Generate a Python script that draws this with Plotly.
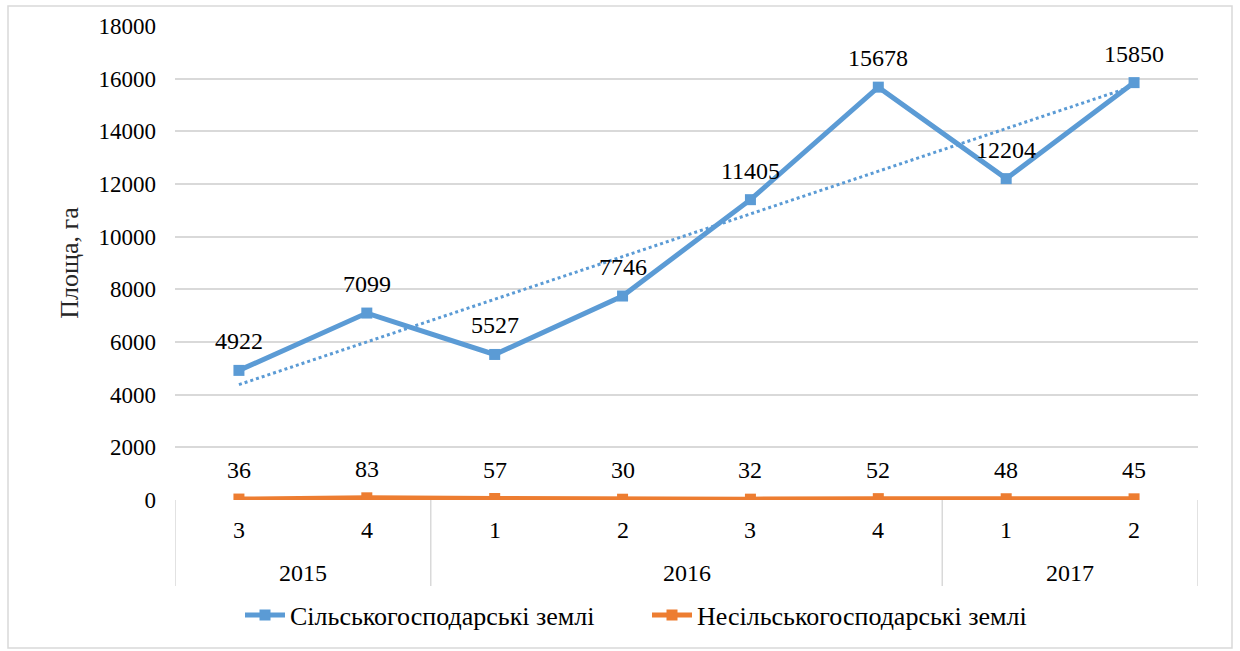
import numpy as np
import plotly.graph_objects as go

# Quarterly land area, ha
quarters = ["3", "4", "1", "2", "3", "4", "1", "2"]
years = ["2015", "2016", "2017"]
year_spans = [(0, 1), (2, 5), (6, 7)]  # first/last quarter index for each year
agri = [4922, 7099, 5527, 7746, 11405, 15678, 12204, 15850]
non_agri = [36, 83, 57, 30, 32, 52, 48, 45]

name_agri = "Сільськогосподарські землі"
name_non = "Несільськогосподарські землі"
y_title = "Площа, га"

BLUE = "#5B9BD5"
ORANGE = "#ED7D31"
GRID = "#D9D9D9"
FONT = "'Liberation Serif', 'Times New Roman', 'DejaVu Serif', serif"
FS = 23

x = np.arange(len(agri))

# linear trend for the agricultural series
slope, intercept = np.polyfit(x, agri, 1)
trend = slope * x + intercept

fig = go.Figure()
fig.add_trace(go.Scatter(
    x=x, y=trend, mode="lines", showlegend=False, hoverinfo="skip",
    line=dict(color=BLUE, width=3, dash="dot"),
))
fig.add_trace(go.Scatter(
    x=x, y=agri, mode="lines+markers", name=name_agri,
    line=dict(color=BLUE, width=5),
    marker=dict(symbol="square", size=11, color=BLUE),
))
fig.add_trace(go.Scatter(
    x=x, y=non_agri, mode="lines+markers", name=name_non,
    line=dict(color=ORANGE, width=5),
    marker=dict(symbol="square", size=11, color=ORANGE),
))

annotations = []
# data labels above each point
for series in (agri, non_agri):
    for xi, v in zip(x, series):
        annotations.append(dict(
            x=xi, y=v, xref="x", yref="y", text=str(v), showarrow=False,
            yshift=29, font=dict(family=FONT, size=24, color="#000000"),
        ))

# two-level category axis: quarters, then years
for xi, q in zip(x, quarters):
    annotations.append(dict(
        x=xi, y=0, xref="x", yref="paper", text=q, showarrow=False,
        yanchor="middle", yshift=-30, font=dict(family=FONT, size=24, color="#000000"),
    ))
for yr, (a, b) in zip(years, year_spans):
    annotations.append(dict(
        x=(a + b) / 2, y=0, xref="x", yref="paper", text=yr, showarrow=False,
        yanchor="middle", yshift=-73, font=dict(family=FONT, size=24, color="#000000"),
    ))

PLOT_H = 474
shapes = []
div_bottom = -86 / PLOT_H
bounds = [year_spans[0][0] - 0.5] + [b + 0.5 for _, b in year_spans]
for bx in bounds:
    shapes.append(dict(
        type="line", xref="x", yref="paper", x0=bx, x1=bx, y0=0, y1=div_bottom,
        line=dict(color=GRID, width=1.5),
    ))

# outer chart frame
PLOT_W = 1023
shapes.append(dict(
    type="rect", xref="paper", yref="paper",
    x0=(8 - 175) / PLOT_W, x1=(1232 - 175) / PLOT_W,
    y0=(500 - 648) / PLOT_H, y1=(500 - 6) / PLOT_H,
    line=dict(color=GRID, width=1.5), fillcolor="rgba(0,0,0,0)", layer="below",
))

fig.update_layout(
    width=1240, height=651,
    margin=dict(l=175, r=42, t=26, b=151),
    paper_bgcolor="white", plot_bgcolor="white",
    font=dict(family=FONT, size=FS, color="#000000"),
    showlegend=True,
    legend=dict(
        orientation="h", x=(240 - 175) / PLOT_W, xanchor="left",
        y=(500 - 615) / PLOT_H, yanchor="middle",
        font=dict(family=FONT, size=26, color="#000000"),
        itemwidth=40, entrywidth=352, entrywidthmode="pixels",
        bgcolor="rgba(0,0,0,0)",
    ),
    annotations=annotations,
    shapes=shapes,
)
fig.update_xaxes(
    range=[-0.5, len(agri) - 0.5], showgrid=False, zeroline=False,
    showticklabels=False, showline=False, ticks="",
)
fig.update_yaxes(
    range=[0, 18000], dtick=2000, tickformat="d", showgrid=True, gridcolor=GRID,
    gridwidth=1.5, zeroline=False, showline=False, ticks="", ticklabelstandoff=18,
    tickfont=dict(family=FONT, size=FS, color="#000000"),
    title=dict(text=y_title, font=dict(family=FONT, size=26, color="#262626"), standoff=12),
)

fig.write_html("out.html")
